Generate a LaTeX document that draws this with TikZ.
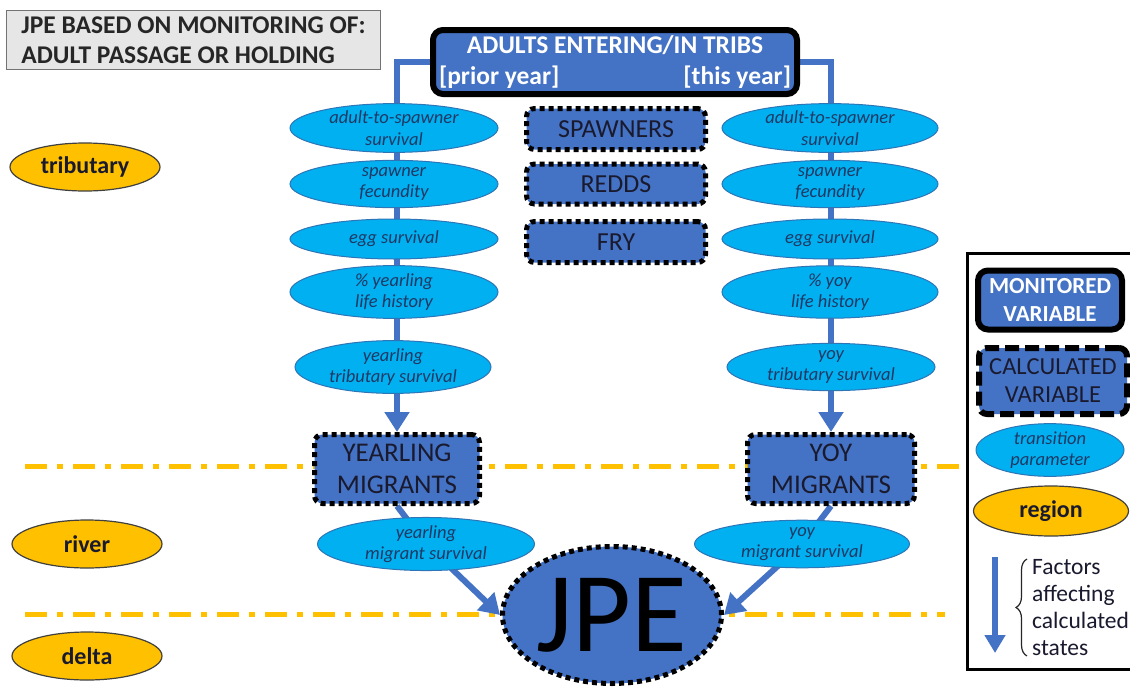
\documentclass[tikz,border=0pt]{standalone}
\usepackage{fontspec}
\setmainfont{Carlito}
\usetikzlibrary{arrows.meta,shapes.geometric,backgrounds,decorations.pathreplacing}

\definecolor{boxblue}{HTML}{4472C4}
\definecolor{paramblue}{HTML}{00B0F0}
\definecolor{paramedge}{HTML}{2E75B6}
\definecolor{paramtext}{HTML}{1F3864}
\definecolor{regiongold}{HTML}{FFC000}
\definecolor{titlegray}{HTML}{E7E6E6}
\definecolor{darktext}{HTML}{1A1A2E}

\tikzset{
  param/.style={ellipse, fill=paramblue, draw=paramedge, line width=1pt,
    inner sep=0pt, align=center, text=paramtext,
    font=\itshape\fontsize{18.5}{21.5}\selectfont},
  calcbox/.style={rectangle, rounded corners=8pt, fill=boxblue, draw=black,
    line width=5pt, dash pattern=on 5pt off 4pt, align=center, text=darktext,
    inner sep=0pt},
  monbox/.style={rectangle, rounded corners=10pt, fill=boxblue, draw=black,
    line width=6pt, align=center, text=white, inner sep=0pt},
  region/.style={ellipse, fill=regiongold, draw=black!75, line width=1.2pt,
    inner sep=0pt, text=darktext, font=\bfseries\fontsize{24}{26}\selectfont},
  boundary/.style={draw=regiongold, line width=5pt,
    dash pattern=on 22pt off 10pt on 6pt off 10pt},
  flow/.style={draw=boxblue, line width=6pt},
  flowtip/.style={-{Triangle[width=24pt,length=20pt]}},
}

\begin{document}
\begin{tikzpicture}[x=1pt,y=-1pt]
\useasboundingbox (0,0) rectangle (1130,688);

% title
\node (title) [rectangle, fill=titlegray, draw=black!55, line width=1.2pt,
  minimum width=374pt, minimum height=59pt, inner xsep=8pt, align=left,
  font=\bfseries\fontsize{25.5}{30}\selectfont, text=black!85] at (193.5,40)
  {JPE BASED ON MONITORING OF:\\ADULT PASSAGE OR HOLDING};

% monitored adults
\node (adults) [monbox, minimum width=364pt, minimum height=64pt,
  font=\bfseries\fontsize{25.5}{31}\selectfont] at (615,62)
  {ADULTS ENTERING/IN TRIBS\\\makebox[352pt]{[prior year]\hfill[this year]}};

% calculated states in the tributary
\node (spawners) [calcbox, minimum width=179pt, minimum height=41pt,
  font=\fontsize{26}{28}\selectfont] at (616,129) {SPAWNERS};
\node (redds) [calcbox, minimum width=179pt, minimum height=40pt,
  font=\fontsize{26}{28}\selectfont] at (616,184) {REDDS};
\node (fry) [calcbox, minimum width=179pt, minimum height=41pt,
  font=\fontsize{26}{28}\selectfont] at (616,242) {FRY};

% yearling pathway parameters
\node (la2s) [param, minimum width=208pt, minimum height=43pt] at (394,128) {adult-to-spawner\\survival};
\node (lfec) [param, minimum width=208pt, minimum height=43pt] at (394,184) {spawner\\fecundity};
\node (legg) [param, minimum width=208pt, minimum height=40pt] at (394,239) {egg survival};
\node (llh)  [param, minimum width=208pt, minimum height=43pt] at (394,292) {\% yearling\\life history};
\node (ltrib)[param, minimum width=196pt, minimum height=44pt] at (393,367) {yearling\\tributary survival};

% young-of-year pathway parameters
\node (ra2s) [param, minimum width=216pt, minimum height=43pt] at (830,128) {adult-to-spawner\\survival};
\node (rfec) [param, minimum width=216pt, minimum height=43pt] at (830,184) {spawner\\fecundity};
\node (regg) [param, minimum width=216pt, minimum height=40pt] at (830,239) {egg survival};
\node (rlh)  [param, minimum width=216pt, minimum height=43pt] at (830,292) {\% yoy\\life history};
\node (rtrib)[param, minimum width=208pt, minimum height=44pt] at (831,367) {yoy\\tributary survival};

% migrants
\node (ymig) [calcbox, minimum width=165pt, minimum height=69pt,
  font=\fontsize{27}{32}\selectfont] at (397,469) {YEARLING\\MIGRANTS};
\node (omig) [calcbox, minimum width=167pt, minimum height=69pt,
  font=\fontsize{27}{32}\selectfont] at (831,469) {YOY\\MIGRANTS};

\node (ysurv) [param, minimum width=217pt, minimum height=44pt] at (426,544) {yearling\\migrant survival};
\node (osurv) [param, minimum width=215pt, minimum height=44pt] at (802,544) {yoy\\migrant survival};

% juvenile production estimate
\node (jpe) [ellipse, fill=boxblue, draw=black, line width=5pt,
  dash pattern=on 5pt off 4pt, minimum width=219pt, minimum height=137pt,
  inner sep=0pt, text=black, font=\fontsize{114}{114}\selectfont] at (612,615) {JPE};

% regions
\node (trib)  [region, minimum width=150pt, minimum height=48pt] at (85,167) {tributary};
\node (river) [region, minimum width=150pt, minimum height=48pt] at (87,544) {river};
\node (delta) [region, minimum width=150pt, minimum height=48pt] at (87,656) {delta};

% legend
\node (legend) [rectangle, draw=black, line width=2.5pt, fill=white,
  minimum width=180pt, minimum height=416pt, anchor=north west] at (966,252) {};
\node (lmon) [monbox, minimum width=144pt, minimum height=59pt,
  font=\bfseries\fontsize{23}{28}\selectfont] at (1050,300) {MONITORED\\VARIABLE};
\node (lcalc) [calcbox, dash pattern=on 14pt off 6pt, line width=6pt,
  minimum width=148pt, minimum height=66pt,
  font=\fontsize{24.5}{28}\selectfont] at (1053,381) {CALCULATED\\VARIABLE};
\node (lpar) [param, minimum width=148pt, minimum height=44pt] at (1050,450) {transition\\parameter};
\node (lreg) [region, minimum width=155pt, minimum height=50pt] at (1051,511) {region};
\coordinate (ltop) at (995,557);
\coordinate (lbot) at (995,653);
\coordinate (bracelo) at (1027,656);
\coordinate (bracehi) at (1027,559);
\node (lfac) [anchor=west, align=left, text=darktext, inner xsep=0pt,
  font=\fontsize{23.5}{27}\selectfont] at (1032,608)
  {Factors\\affecting\\calculated\\states};

\begin{scope}[on background layer]
  % region boundaries
  \draw[boundary] (25,466) -- (legend.west |- 0,466);
  \draw[boundary] (25,614) -- (945,614);
  % flows from adults down to migrants
  \draw[flow, flowtip] (adults.west) -| (ymig.north);
  \draw[flow, flowtip] (adults.east) -| (omig.north);
  % flows from migrants to the estimate
  \draw[flow] (ymig.south) -- (ysurv.center);
  \draw[flow, flowtip] (ysurv.center) -- (jpe.west);
  \draw[flow] (omig.south) -- (osurv.center);
  \draw[flow, flowtip] (osurv.center) -- (jpe.east);
\end{scope}

% legend arrow and brace
\draw[flow, -{Triangle[width=20pt,length=18pt]}] (ltop) -- (lbot);
\draw[line width=1.2pt, draw=black!85, decorate,
  decoration={brace, amplitude=11pt}] (bracelo) -- (bracehi);
\end{tikzpicture}
\end{document}
